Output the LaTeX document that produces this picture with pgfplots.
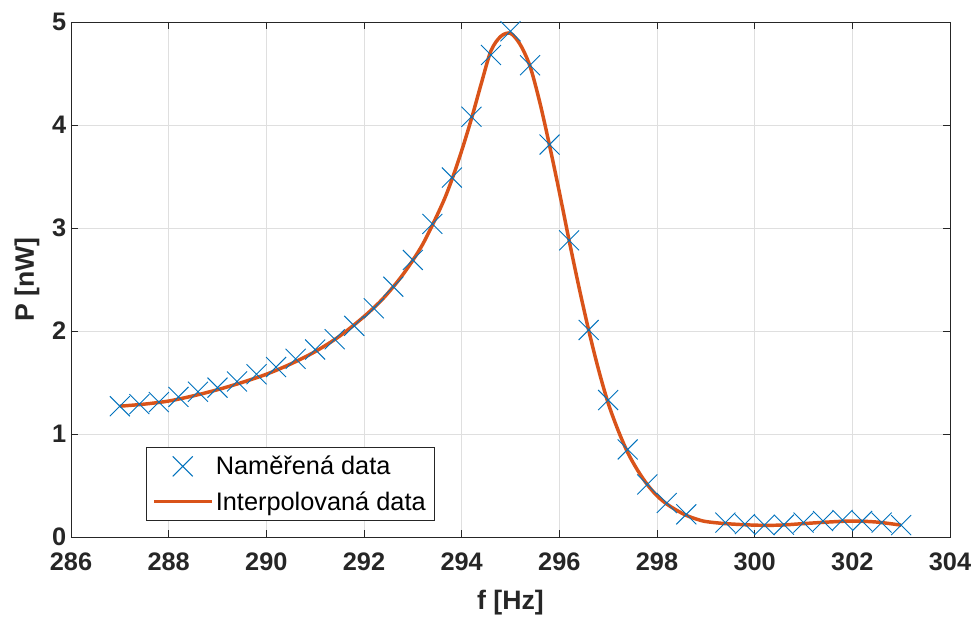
\documentclass[border=0pt]{standalone}
\usepackage{pgfplots}
\pgfplotsset{compat=1.18}
\usepackage{fontspec}
\setmainfont{Liberation Sans}
\definecolor{mblue}{HTML}{0072BD}
\definecolor{mred}{HTML}{D95319}
\definecolor{axgray}{HTML}{262626}
\definecolor{gridgray}{HTML}{DFDFDF}
\begin{document}
\begin{tikzpicture}
\begin{axis}[
  scale only axis,
  width=659.25pt, height=386.25pt,
  xmin=286, xmax=304, ymin=0, ymax=5,
  xtick={286,288,...,304}, ytick={0,1,...,5},
  tick align=inside, tick pos=both,
  major tick length=5pt,
  axis line style={axgray, line width=0.6pt},
  tick style={axgray, line width=0.6pt},
  grid=major,
  major grid style={gridgray, line width=0.6pt},
  /pgf/number format/assume math mode=true,
  /pgf/number format/1000 sep={},
  tick label style={font=\bfseries\fontsize{19}{19}\selectfont, text=axgray},
  xticklabel style={yshift=-8pt},
  xlabel={f [Hz]}, ylabel={P [nW]},
  label style={font=\bfseries\fontsize{20}{20}\selectfont, text=axgray},
  xlabel style={at={(axis description cs:0.5,-0.128)}, anchor=center},
  ylabel style={at={(axis description cs:-0.05,0.5)}, anchor=center},
  legend style={at={(axis description cs:0.0853,0.1748)}, anchor=north west,
    font=\fontsize{19}{22}\selectfont, draw=axgray, line width=0.6pt,
    row sep=7pt, inner sep=4.5pt},
  legend cell align=left,
  legend image code/.code={\draw[mark repeat=2,mark phase=2,#1] plot coordinates {(0pt,0pt) (21.5pt,0pt) (43pt,0pt)};},
]
\addplot[only marks, mark=x, mark size=10.6pt, mblue, line width=0.7pt] coordinates {
(287.0,1.27) (287.4,1.29) (287.8,1.31) (288.2,1.36) (288.6,1.41) (289.0,1.45)
(289.4,1.51) (289.8,1.58) (290.2,1.65) (290.6,1.73) (291.0,1.82) (291.4,1.92)
(291.8,2.05) (292.2,2.22) (292.6,2.43) (293.0,2.69) (293.4,3.04) (293.8,3.49)
(294.2,4.08) (294.6,4.68) (295.0,4.91) (295.4,4.58) (295.8,3.81) (296.2,2.88)
(296.6,2.01) (297.0,1.33) (297.4,0.85) (297.8,0.51) (298.2,0.33) (298.6,0.22)
(299.4,0.14) (299.8,0.125) (300.2,0.115) (300.6,0.12) (301.0,0.14) (301.4,0.155)
(301.8,0.165) (302.2,0.155) (302.6,0.14) (303.0,0.115)
};
\addlegendentry{Naměřená data}
\addplot[mred, line width=2.6pt, smooth, no marks] coordinates {
(287.0,1.27) (287.5,1.29) (288.0,1.32) (288.5,1.37) (289.0,1.43) (289.5,1.50)
(290.0,1.58) (290.5,1.68) (291.0,1.80) (291.5,1.95) (292.0,2.14) (292.4,2.32)
(292.8,2.55) (293.2,2.84) (293.6,3.23) (293.8,3.47) (294.0,3.75) (294.2,4.06)
(294.4,4.40) (294.6,4.72) (294.8,4.86) (295.0,4.89) (295.2,4.78) (295.4,4.57)
(295.6,4.22) (295.8,3.80) (296.0,3.35) (296.2,2.88) (296.4,2.43) (296.6,2.01)
(296.8,1.63) (297.0,1.30) (297.2,1.04) (297.4,0.82) (297.6,0.65) (297.8,0.51)
(298.0,0.40) (298.2,0.32) (298.4,0.26) (298.6,0.21) (298.8,0.175) (299.0,0.15)
(299.4,0.13) (300.0,0.115) (300.5,0.115) (301.0,0.13) (301.5,0.145) (302.0,0.155)
(302.5,0.145) (303.0,0.115)
};
\addlegendentry{Interpolovaná data}
\end{axis}
\pgfresetboundingbox
\path (-53.25pt,-63pt) rectangle (678.75pt,402.75pt);
\end{tikzpicture}
\end{document}
